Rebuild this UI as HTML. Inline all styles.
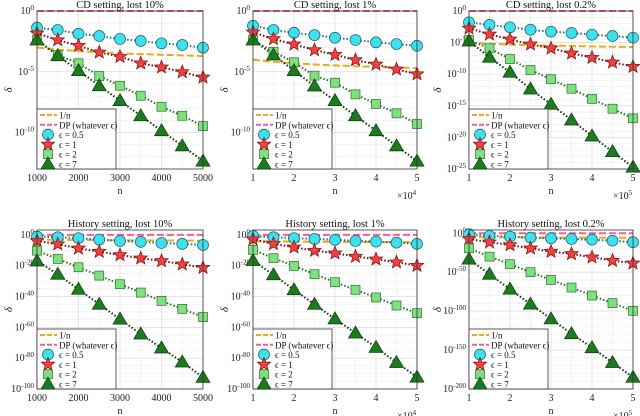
<!DOCTYPE html>
<html><head><meta charset="utf-8"><style>
body{margin:0;background:#fff}
svg{display:block;font-family:"Liberation Serif",serif}
</style></head><body>
<svg id="fig" width="640" height="416" viewBox="0 0 640 416" xmlns="http://www.w3.org/2000/svg"></svg>
<script>
// x values: n (scaled per panel)
const nIndex=[1,1.5,2,2.5,3,3.5,4,4.5,5];
// log10(delta) series per panel: [eps0.5, eps1, eps2, eps7]
const cdLost10_e05=[-1.37,-1.56,-1.87,-2.06,-2.3,-2.47,-2.66,-2.8,-3.02];
const cdLost10_e1=[-1.84,-2.39,-2.86,-3.4,-3.76,-4.3,-4.63,-5.02,-5.46];
const cdLost10_e2=[-2.39,-3.62,-4.3,-5.35,-6.15,-6.97,-7.88,-8.62,-9.47];
const cdLost10_e7=[-2.39,-3.68,-4.91,-6.15,-7.38,-8.62,-9.85,-11.1,-12.35];
const cdLost1_e05=[-1.21,-1.56,-1.79,-1.98,-2.2,-2.39,-2.58,-2.72,-2.86];
const cdLost1_e1=[-1.75,-2.3,-2.74,-3.21,-3.6,-4.03,-4.39,-4.8,-5.19];
const cdLost1_e2=[-2.4,-3.35,-4.22,-5.32,-5.9,-6.86,-7.65,-8.42,-9.3];
const cdLost1_e7=[-2.39,-3.62,-4.91,-6.17,-7.38,-8.62,-9.85,-11.1,-12.35];
const cdLost02_e05=[-1.79,-2.2,-2.58,-2.96,-3.27,-3.48,-3.75,-3.96,-4.22];
const cdLost02_e1=[-2.74,-3.69,-4.48,-5.27,-5.9,-6.7,-7.38,-8.12,-8.8];
const cdLost02_e2=[-4.6,-5.9,-7.6,-9.34,-10.8,-12.3,-13.9,-15.46,-16.98];
const cdLost02_e7=[-4.75,-7.33,-9.7,-12.34,-14.76,-17.25,-19.78,-22.26,-24.7];
const hLost10_e05=[-1.1,-1.5,-2.1,-3.0,-3.9,-4.5,-5.2,-5.8,-6.5];
const hLost10_e1=[-3.9,-6,-8.7,-10.8,-13,-15.1,-16.9,-19,-21.2];
const hLost10_e2=[-10.2,-15.6,-21,-26.4,-32,-37.4,-42.8,-48,-53.3];
const hLost10_e7=[-16.9,-25.5,-35.3,-45,-54.7,-64.3,-73.4,-82.5,-92.5];
const hLost1_e05=[-0.65,-1.5,-2.1,-2.6,-3.2,-3.9,-4.3,-5,-5.8];
const hLost1_e1=[-2.8,-5.8,-8,-10.2,-11.9,-14,-15.8,-17.7,-19.9];
const hLost1_e2=[-9.7,-15.1,-20.1,-25.5,-30.7,-35.6,-40.6,-45.8,-50.8];
const hLost1_e7=[-16.6,-25.9,-35.6,-45,-54.5,-63.7,-73,-82.8,-92.3];
const hLost02_e05=[-1.3,-3.4,-4.3,-5.6,-6.4,-7.3,-8.2,-9.5,-11.5];
const hLost02_e1=[-7.3,-11.5,-15,-19.3,-23.5,-26.5,-30.8,-35.1,-38.5];
const hLost02_e2=[-19.3,-30,-39.7,-50,-59.9,-69.7,-80,-89.7,-99.6];
const hLost02_e7=[-33.3,-52.6,-71.8,-91,-110,-129,-147,-166,-185];
const titles=["CD setting, lost 10%","CD setting, lost 1%","CD setting, lost 0.2%","History setting, lost 10%","History setting, lost 1%","History setting, lost 0.2%"];
const nScale=[1000,10000,100000,1000,10000,100000];
const xTickLabelsA=["1000","2000","3000","4000","5000"];
const xTickLabelsB=["1","2","3","4","5"];
const legendLabels=["1/n","DP (whatever \u03f5)","\u03f5 = 0.5","\u03f5 = 1","\u03f5 = 2","\u03f5 = 7"];

const panels=[
 {x0:37,x1:203,y0:11,y1:169,ymin:-13,ymax:0,yt:[0,-5,-10],minor:1,s:[cdLost10_e05,cdLost10_e1,cdLost10_e2,cdLost10_e7]},
 {x0:253,x1:417,y0:11,y1:169,ymin:-13,ymax:0,yt:[0,-5,-10],minor:1,s:[cdLost1_e05,cdLost1_e1,cdLost1_e2,cdLost1_e7]},
 {x0:469,x1:633,y0:11,y1:169,ymin:-25,ymax:0,yt:[0,-5,-10,-15,-20,-25],minor:1,s:[cdLost02_e05,cdLost02_e1,cdLost02_e2,cdLost02_e7]},
 {x0:37,x1:203,y0:230,y1:389,ymin:-100,ymax:3.2,yt:[0,-20,-40,-60,-80,-100],minor:5,s:[hLost10_e05,hLost10_e1,hLost10_e2,hLost10_e7]},
 {x0:253,x1:417,y0:230,y1:389,ymin:-100,ymax:3.2,yt:[0,-20,-40,-60,-80,-100],minor:5,s:[hLost1_e05,hLost1_e1,hLost1_e2,hLost1_e7]},
 {x0:469,x1:633,y0:230,y1:389,ymin:-200,ymax:4.2,yt:[0,-50,-100,-150,-200],minor:10,s:[hLost02_e05,hLost02_e1,hLost02_e2,hLost02_e7]}
];
const lineCols=["#0d7a80","#7a0a0a","#2a6e2a","#0b3a0b"];
const NS="http://www.w3.org/2000/svg";
const svg=document.getElementById('fig');
function mk(tag,attrs,parent){const e=document.createElementNS(NS,tag);for(const k in attrs)e.setAttribute(k,attrs[k]);(parent||svg).appendChild(e);return e;}
function marker(g,k,cx,cy){
  let e;
  if(k===0){e=mk('circle',{cx:cx,cy:cy,r:5.5,fill:'#3fe0ee',stroke:'#1a5a60','stroke-width':0.7},g);}
  else if(k===1){let p=[];for(let i=0;i<10;i++){const r=i%2?3:7,a=-Math.PI/2+i*Math.PI/5;p.push((cx+r*Math.cos(a)).toFixed(1)+','+(cy+r*Math.sin(a)).toFixed(1));}
    e=mk('polygon',{points:p.join(' '),fill:'#f04040',stroke:'#7a1010','stroke-width':0.7},g);}
  else if(k===2){e=mk('rect',{x:cx-4.5,y:cy-4.5,width:9,height:9,fill:'#7fe07f',stroke:'#2a6e2a','stroke-width':0.7},g);}
  else {e=mk('polygon',{points:`${cx},${cy-7} ${cx+7},${cy+5} ${cx-7},${cy+5}`,fill:'#1e7a1e',stroke:'#0b3a0b','stroke-width':0.7},g);}
  
  
  return e;
}
panels.forEach((P,pi)=>{
  const g=mk('g',{});
  
  
  const sx=v=>P.x0+(v-1)/4*(P.x1-P.x0);
  const sy=v=>P.y0+(P.ymax-v)/(P.ymax-P.ymin)*(P.y1-P.y0);
  // minor grid
  for(let v=Math.ceil(P.ymin);v<=P.ymax;v+=P.minor){const y=sy(v);
    const l=mk('line',{x1:P.x0,x2:P.x1,y1:y,y2:y,stroke:'#ccc','stroke-width':0.5,'stroke-dasharray':'1,1.5'},g);
    }
  for(let v=1.5;v<5;v+=1){const x=sx(v);
    const l=mk('line',{x1:x,x2:x,y1:P.y0,y2:P.y1,stroke:'#ccc','stroke-width':0.5,'stroke-dasharray':'1,1.5'},g);
    }
  // major grid + ticks
  P.yt.forEach(v=>{const y=sy(v);
    const l=mk('line',{x1:P.x0,x2:P.x1,y1:y,y2:y,stroke:'#dcdcdc','stroke-width':0.7},g);
    
    const t=mk('text',{x:P.x0-3,y:y+3,'font-size':10,'text-anchor':'end',fill:'#222'},g);
    t.textContent='10';const ts=mk('tspan',{dy:-4,'font-size':7},t);ts.textContent=String(v);
    });
  const xl=pi%3===0?xTickLabelsA:xTickLabelsB;
  [1,2,3,4,5].forEach((v,i)=>{const x=sx(v);
    const l=mk('line',{x1:x,x2:x,y1:P.y0,y2:P.y1,stroke:'#dcdcdc','stroke-width':0.7},g);
    
    const t=mk('text',{x:x,y:P.y1+12,'font-size':10,'text-anchor':'middle',fill:'#222'},g);
    t.textContent=xl[i];});
  // 1/n line
  let pts=[];for(let v=1;v<=5.001;v+=0.25){pts.push(sx(v).toFixed(1)+','+sy(-Math.log10(v*nScale[pi])).toFixed(1));}
  let e=mk('polyline',{points:pts.join(' '),fill:'none',stroke:'#f0a81e','stroke-width':2,'stroke-dasharray':'7,3'},g);
  
  e=mk('line',{x1:P.x0,x2:P.x1,y1:sy(0),y2:sy(0),stroke:'#ff5a96','stroke-width':2,'stroke-dasharray':'7,3'},g);
  
  // series
  P.s.forEach((arr,k)=>{
    const p=arr.map((v,i)=>sx(nIndex[i]).toFixed(1)+','+sy(v).toFixed(1));
    const l=mk('polyline',{points:p.join(' '),fill:'none',stroke:lineCols[k],'stroke-width':2,'stroke-dasharray':'1.5,2'},g);
    
  });
  P.s.forEach((arr,k)=>{arr.forEach((v,i)=>marker(g,k,sx(nIndex[i]),sy(v)));});
  // box
  e=mk('rect',{x:P.x0,y:P.y0,width:P.x1-P.x0,height:P.y1-P.y0,fill:'none',stroke:'#333','stroke-width':0.8},g);
  
  // title
  e=mk('text',{x:(P.x0+P.x1)/2,y:P.y0-3,'font-size':10.5,'text-anchor':'middle',fill:'#111'},g);
  e.textContent=titles[pi];
  e=mk('text',{x:(P.x0+P.x1)/2,y:P.y1+25,'font-size':10,'text-anchor':'middle',fill:'#222'},g);
  e.textContent='n';
  const yc=(P.y0+P.y1)/2, xa=pi%3===2?P.x0-28:P.x0-25;
  e=mk('text',{x:xa,y:yc,'font-size':11,'font-style':'italic','text-anchor':'middle',transform:`rotate(-90 ${xa} ${yc})`,fill:'#222'},g);
  e.textContent='\u03b4';
  if(pi%3!==0){e=mk('text',{x:P.x1-20,y:P.y1+30,'font-size':10,fill:'#222'},g);
    e.textContent='\u00d710';const ts=mk('tspan',{dy:-4,'font-size':7},e);ts.textContent=pi%3===1?'4':'5';
    }
  // legend
  const lg=mk('g',{},g);
  const lx=P.x0,ly=P.y1-60,lw=79,lh=60;
  mk('rect',{x:lx,y:ly,width:lw,height:lh,fill:'#fff',stroke:'#333','stroke-width':0.8},lg);
  legendLabels.forEach((lab,j)=>{
    const yy=ly+6+j*9.8;
    const ent=mk('g',{},lg);
    if(j<2){mk('line',{x1:lx+3,x2:lx+20,y1:yy,y2:yy,stroke:j?'#ff5a96':'#f0a81e','stroke-width':2,'stroke-dasharray':'5,2'},ent);}
    else marker(ent,j-2,lx+11,yy);
    const t=mk('text',{x:lx+22,y:yy+3.5,'font-size':9,fill:'#111'},ent);t.textContent=lab;
  });
});
</script>
</body></html>
